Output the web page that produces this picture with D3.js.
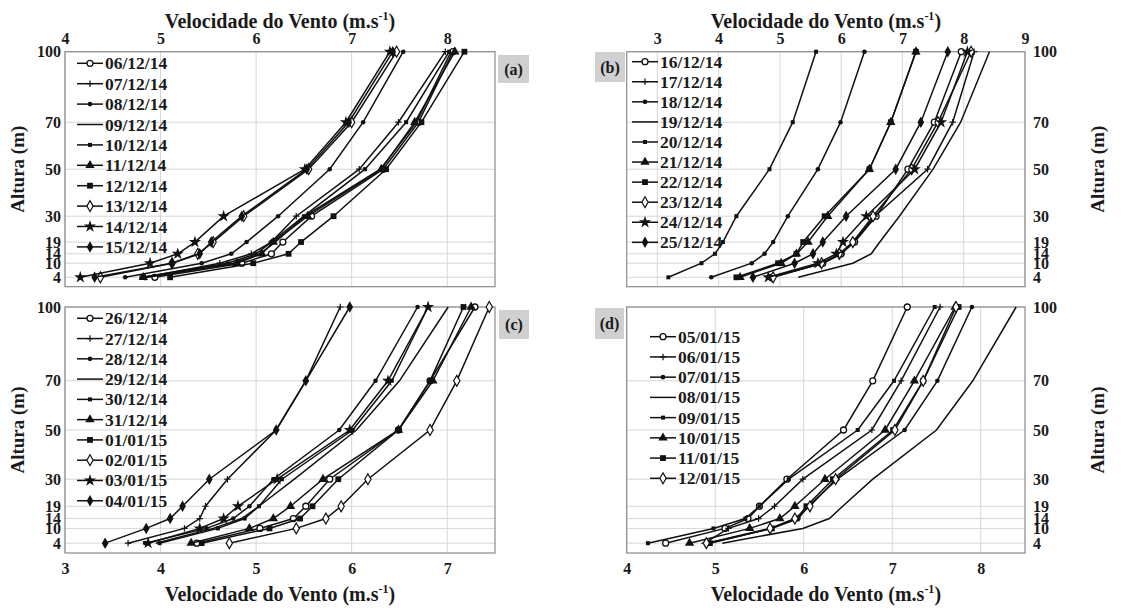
<!DOCTYPE html>
<html><head><meta charset="utf-8">
<script src="https://cdn.jsdelivr.net/npm/d3@7"></script>
<style>
body{margin:0;background:#fff}
svg{display:block}
text{font-family:"Liberation Serif","Times New Roman",serif;font-weight:bold;fill:#1a1a1a}
</style></head><body>
<svg id="chart" width="1126" height="608"></svg>
<script>
// ---------------- data ----------------
const heights = [4, 10, 14, 19, 30, 50, 70, 100];
const heightTicks = [4, 10, 14, 19, 30, 50, 70, 100];
const markerTypes = ["circleOpen","plus","dot","none","smallSquare","triangle","square","diamondOpen","star","diamondFilled"];

const datesA = ["06/12/14","07/12/14","08/12/14","09/12/14","10/12/14","11/12/14","12/12/14","13/12/14","14/12/14","15/12/14"];
const speedsA = [
  [4.94,5.85,6.16,6.28,6.58,7.33,7.70,8.06],
  [4.84,5.62,5.95,6.16,6.42,7.08,7.49,7.98],
  [4.63,5.43,5.74,5.90,6.23,6.77,7.12,7.54],
  [4.87,5.76,6.04,6.20,6.51,7.30,7.68,8.04],
  [4.80,5.70,6.00,6.16,6.50,7.14,7.57,8.02],
  [4.82,5.80,6.06,6.18,6.54,7.31,7.66,8.08],
  [5.10,5.97,6.34,6.47,6.81,7.36,7.73,8.18],
  [4.37,5.12,5.39,5.55,5.87,6.55,7.00,7.47],
  [4.16,4.89,5.18,5.36,5.66,6.51,6.94,7.40],
  [4.31,5.12,5.41,5.53,5.85,6.53,6.97,7.43]
];
const ticksA = [4,5,6,7,8];

const datesB = ["16/12/14","17/12/14","18/12/14","19/12/14","20/12/14","21/12/14","22/12/14","23/12/14","24/12/14","25/12/14"];
const speedsB = [
  [4.86,5.70,6.00,6.22,6.57,7.09,7.52,7.96],
  [4.85,5.70,6.00,6.20,6.55,7.41,7.82,8.17],
  [3.88,4.54,4.75,4.89,5.13,5.62,5.99,6.38],
  [5.30,6.19,6.49,6.63,6.95,7.50,7.95,8.42],
  [3.18,3.72,3.94,4.07,4.29,4.83,5.21,5.59],
  [4.35,5.02,5.27,5.46,5.78,6.46,6.81,7.22],
  [4.29,4.97,5.27,5.38,5.73,6.46,6.81,7.22],
  [4.89,5.68,5.97,6.19,6.52,7.15,7.58,8.12],
  [4.81,5.62,5.92,6.03,6.41,7.20,7.63,8.06],
  [4.56,5.24,5.54,5.70,6.08,6.89,7.30,7.74]
];
const ticksB = [3,4,5,6,7,8,9];

const datesC = ["26/12/14","27/12/14","28/12/14","29/12/14","30/12/14","31/12/14","01/01/15","02/01/15","03/01/15","04/01/15"];
const speedsC = [
  [4.38,5.04,5.39,5.52,5.77,6.49,6.82,7.29],
  [3.66,4.25,4.41,4.47,4.70,5.21,5.52,5.88],
  [3.84,4.48,4.76,4.93,5.18,5.87,6.25,6.69],
  [3.95,4.55,4.85,5.03,5.40,6.05,6.50,7.01],
  [3.99,4.60,4.88,5.03,5.27,6.01,6.42,6.80],
  [4.32,4.93,5.18,5.36,5.70,6.49,6.85,7.25],
  [4.43,5.14,5.46,5.59,5.86,6.49,6.82,7.17],
  [4.72,5.42,5.73,5.89,6.17,6.82,7.10,7.44],
  [3.87,4.41,4.66,4.81,5.22,5.98,6.38,6.80],
  [3.42,3.85,4.10,4.23,4.51,5.21,5.52,5.98]
];
const ticksC = [3,4,5,6,7];

const datesD = ["05/01/15","06/01/15","07/01/15","08/01/15","09/01/15","10/01/15","11/01/15","12/01/15"];
const speedsD = [
  [4.44,5.11,5.37,5.50,5.81,6.45,6.78,7.17],
  [4.88,5.15,5.49,5.67,5.99,6.77,7.10,7.54],
  [4.92,5.64,5.94,6.05,6.38,7.14,7.51,7.90],
  [5.08,5.99,6.29,6.44,6.78,7.50,7.91,8.40],
  [4.24,4.98,5.34,5.50,5.83,6.61,7.02,7.48],
  [4.71,5.39,5.73,5.90,6.24,6.92,7.25,7.71],
  [4.94,5.64,5.92,6.03,6.33,7.01,7.35,7.75],
  [4.90,5.62,5.90,6.07,6.36,7.03,7.35,7.72]
];
const ticksD = [4,5,6,7,8];

const xTitle = "Velocidade do Vento (m.s";
const yTitle = "Altura (m)";

// ---------------- layout ----------------
const panels = [
  {id:"(a)", dates:datesA, speeds:speedsA, ticks:ticksA, xd:[4,8.5], x0:65, x1:495, y0:51.7, y1:286.7, xAxis:"top", yAxis:"left", tag:{x:498,y:55,w:31,h:28}, leg:{x:77,y:63.3,dy:20.4}},
  {id:"(b)", dates:datesB, speeds:speedsB, ticks:ticksB, xd:[2.5,9], x0:626.7, x1:1025, y0:51.7, y1:286.7, xAxis:"top", yAxis:"right", tag:{x:595,y:52,w:30,h:30}, leg:{x:632,y:61.7,dy:20.07}},
  {id:"(c)", dates:datesC, speeds:speedsC, ticks:ticksC, xd:[3,7.5], x0:65, x1:495, y0:307, y1:553, xAxis:"bottom", yAxis:"left", tag:{x:499,y:310,w:30,h:29}, leg:{x:77,y:318.3,dy:20.27}},
  {id:"(d)", dates:datesD, speeds:speedsD, ticks:ticksD, xd:[4,8.5], x0:626.7, x1:1025, y0:307, y1:553, xAxis:"bottom", yAxis:"right", tag:{x:595,y:308,w:29,h:31}, leg:{x:650,y:336.7,dy:20.23}}
];

const svg = d3.select("#chart");
const FS = 17.5;   // legend
const TFS = 16;    // ticks
const LFS = 20;    // axis titles

function marker(g, type, x, y){
  const s = "#111";
  switch(type){
    case "circleOpen": g.append("circle").attr("cx",x).attr("cy",y).attr("r",3).attr("fill","#fff").attr("stroke",s).attr("stroke-width",1.3); break;
    case "plus": g.append("path").attr("d",`M${x-3.2},${y}h6.4M${x},${y-3.2}v6.4`).attr("stroke",s).attr("stroke-width",1.2).attr("fill","none"); break;
    case "dot": g.append("circle").attr("cx",x).attr("cy",y).attr("r",2.3).attr("fill",s); break;
    case "none": break;
    case "smallSquare": g.append("rect").attr("x",x-2).attr("y",y-2).attr("width",4).attr("height",4).attr("fill",s); break;
    case "triangle": g.append("path").attr("d",d3.symbol(d3.symbolTriangle,38)()).attr("transform",`translate(${x},${y})`).attr("fill",s); break;
    case "square": g.append("rect").attr("x",x-2.9).attr("y",y-2.9).attr("width",5.8).attr("height",5.8).attr("fill",s); break;
    case "diamondOpen": g.append("path").attr("d",d3.symbol(d3.symbolDiamond,34)()).attr("transform",`translate(${x},${y})`).attr("fill","#fff").attr("stroke",s).attr("stroke-width",1.2); break;
    case "star": g.append("path").attr("d",d3.symbol(d3.symbolStar,46)()).attr("transform",`translate(${x},${y})`).attr("fill",s); break;
    case "diamondFilled": g.append("path").attr("d",d3.symbol(d3.symbolDiamond,38)()).attr("transform",`translate(${x},${y})`).attr("fill",s); break;
  }
}

function xLabel(g, x, y){
  const t = g.append("text").attr("x",x).attr("y",y).attr("text-anchor","middle").attr("font-size",LFS);
  t.append("tspan").text(xTitle);
  t.append("tspan").attr("dy",-8).attr("font-size",12).text("-1");
  t.append("tspan").attr("dy",8).text(")");
}

panels.forEach(p => {
  const g = svg.append("g");
  const x = d3.scaleLinear().domain(p.xd).range([p.x0, p.x1]);
  const y = d3.scaleLinear().domain([0,100]).range([p.y1, p.y0]);

  // grid
  g.selectAll(".gx").data(p.ticks).enter().append("line")
    .attr("x1",d=>x(d)).attr("x2",d=>x(d)).attr("y1",p.y0).attr("y2",p.y1)
    .attr("stroke","#d6d6d6").attr("stroke-width",1);
  g.selectAll(".gy").data(heightTicks).enter().append("line")
    .attr("x1",p.x0).attr("x2",p.x1).attr("y1",d=>y(d)).attr("y2",d=>y(d))
    .attr("stroke","#d6d6d6").attr("stroke-width",1);

  // box
  g.append("rect").attr("x",p.x0).attr("y",p.y0).attr("width",p.x1-p.x0).attr("height",p.y1-p.y0)
    .attr("fill","none").attr("stroke","#8a8a8a").attr("stroke-width",1.2);

  // x axis
  const fmt = d3.format("d");
  const xa = p.xAxis === "top"
    ? d3.axisTop(x).tickValues(p.ticks).tickFormat(fmt).tickSize(0).tickPadding(8)
    : d3.axisBottom(x).tickValues(p.ticks).tickFormat(fmt).tickSize(0).tickPadding(10);
  const xg = g.append("g").attr("transform",`translate(0,${p.xAxis==="top"?p.y0:p.y1})`).call(xa);
  xg.select(".domain").remove();
  xg.selectAll("text").attr("font-size",TFS).attr("fill","#1a1a1a");
  if(p.xAxis==="top") xLabel(g, (p.x0+p.x1)/2, 27.5); else xLabel(g, (p.x0+p.x1)/2, 601);

  // y axis
  const ya = p.yAxis === "left"
    ? d3.axisLeft(y).tickValues(heightTicks).tickFormat(fmt).tickSize(0).tickPadding(4)
    : d3.axisRight(y).tickValues(heightTicks).tickFormat(fmt).tickSize(0).tickPadding(8);
  const yg = g.append("g").attr("transform",`translate(${p.yAxis==="left"?p.x0:p.x1},0)`).call(ya);
  yg.select(".domain").remove();
  yg.selectAll("text").attr("font-size",TFS).attr("fill","#1a1a1a");
  const ym = (p.y0+p.y1)/2;
  const yx = p.yAxis==="left" ? 24 : 1104;
  g.append("text").attr("transform",`translate(${yx},${ym}) rotate(-90)`).attr("text-anchor","middle")
    .attr("font-size",LFS-1).text(yTitle);

  // lines
  const line = d3.line().x(d=>x(d[0])).y(d=>y(d[1]));
  p.speeds.forEach((sp,i) => {
    const pts = sp.map((v,j)=>[v, heights[j]]);
    g.append("path").attr("d",line(pts)).attr("fill","none").attr("stroke","#111").attr("stroke-width",1.5);
    pts.forEach(pt => marker(g, markerTypes[i], x(pt[0]), y(pt[1])));
  });

  // legend
  p.dates.forEach((d,i) => {
    const ly = p.leg.y + i*p.leg.dy;
    g.append("line").attr("x1",p.leg.x).attr("x2",p.leg.x+26).attr("y1",ly).attr("y2",ly).attr("stroke","#111").attr("stroke-width",1.5);
    marker(g, markerTypes[i], p.leg.x+13, ly);
    g.append("text").attr("x",p.leg.x+28).attr("y",ly+6).attr("font-size",FS).text(d);
  });

  // tag box
  g.append("rect").attr("x",p.tag.x).attr("y",p.tag.y).attr("width",p.tag.w).attr("height",p.tag.h).attr("fill","#d0d0d0");
  g.append("text").attr("x",p.tag.x+p.tag.w/2).attr("y",p.tag.y+p.tag.h/2+5.5).attr("text-anchor","middle").attr("font-size",16).text(p.id);
});
</script>
</body></html>
